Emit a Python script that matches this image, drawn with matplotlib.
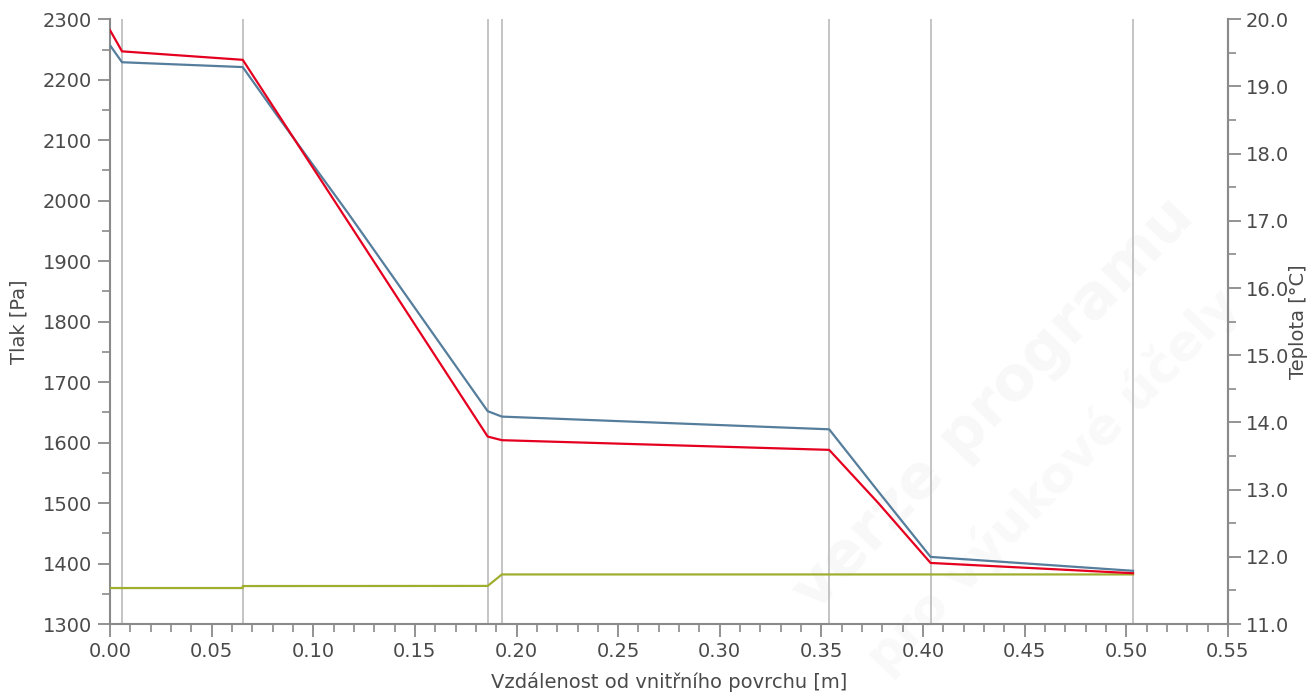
import matplotlib
matplotlib.use("Agg")
import matplotlib.pyplot as plt
from matplotlib.ticker import MultipleLocator, FormatStrFormatter

# ---- data ----
layer_bounds = [0.0059, 0.0653, 0.1858, 0.1928, 0.3538, 0.4037, 0.5033]

red_x = [0.0, 0.0059, 0.0653, 0.1858, 0.1928, 0.3538, 0.378, 0.4037, 0.5033]
red_p = [2282, 2247, 2233, 1610, 1604, 1588, 1500, 1401, 1384]

blue_x = [0.0, 0.0059, 0.0653, 0.082, 0.1172, 0.1858, 0.1928, 0.3538, 0.378, 0.4037, 0.5033]
blue_p = [2257, 2229, 2221, 2142, 1979, 1652, 1643, 1622, 1519, 1411, 1388]

green_x = [0.0, 0.0653, 0.0653, 0.1858, 0.1928, 0.5033]
green_p = [1359.5, 1359.5, 1362.8, 1363, 1382, 1382]

x_label = "Vzdálenost od vnitřního povrchu [m]"
yl_label = "Tlak [Pa]"
yr_label = "Teplota [°C]"

# ---- style ----
spine_c = "#8a8a8a"
text_c = "#4a4a4a"
plt.rcParams["font.family"] = ["DejaVu Sans"]

fig = plt.figure(figsize=(13.16, 6.97), dpi=100)
ax = fig.add_axes([0.0836, 0.1047, 0.9331 - 0.0836, 0.9723 - 0.1047])

# faint watermark below the data
ax.text(0.755, 0.42, "verze programu", fontsize=44, fontweight="bold", color="#f8f8f8",
        rotation=46, ha="center", va="center", zorder=0, transform=fig.transFigure,
        clip_on=False)
ax.text(0.80, 0.31, "pro výukové účely", fontsize=36, fontweight="bold", color="#f9f9f9",
        rotation=46, ha="center", va="center", zorder=0, transform=fig.transFigure,
        clip_on=False)

for xb in layer_bounds:
    ax.axvline(xb, color="#c4c4c4", lw=1.4, zorder=1)

ax.plot(green_x, green_p, color="#9fae2e", lw=1.6, zorder=3)
ax.plot(blue_x, blue_p, color="#557d9c", lw=1.6, zorder=4)
ax.plot(red_x, red_p, color="#e5001f", lw=1.6, zorder=5)

ax.set_xlim(0, 0.55)
ax.set_ylim(1300, 2300)
ax.xaxis.set_major_locator(MultipleLocator(0.05))
ax.xaxis.set_minor_locator(MultipleLocator(0.01))
ax.xaxis.set_major_formatter(FormatStrFormatter("%.2f"))
ax.yaxis.set_major_locator(MultipleLocator(100))
ax.yaxis.set_minor_locator(MultipleLocator(50))

ax.spines["top"].set_visible(False)
for s in ["left", "bottom", "right"]:
    ax.spines[s].set_color(spine_c)
    ax.spines[s].set_linewidth(1.5)

ax.tick_params(which="major", length=9, width=1.3, color=spine_c, labelsize=14,
               labelcolor=text_c, direction="out", pad=4)
ax.tick_params(which="minor", length=6, width=1.2, color=spine_c, direction="out")

ax.set_xlabel(x_label, fontsize=14, color=text_c, labelpad=8)
ax.set_ylabel(yl_label, fontsize=14, color=text_c, labelpad=10)

ax2 = ax.twinx()
ax2.set_ylim(11.0, 20.0)
ax2.yaxis.set_major_locator(MultipleLocator(1.0))
ax2.yaxis.set_minor_locator(MultipleLocator(0.5))
ax2.yaxis.set_major_formatter(FormatStrFormatter("%.1f"))
for s in ["top", "left", "bottom"]:
    ax2.spines[s].set_visible(False)
ax2.spines["right"].set_color(spine_c)
ax2.spines["right"].set_linewidth(1.5)
ax2.tick_params(which="major", length=9, width=1.3, color=spine_c, labelsize=14,
                labelcolor=text_c, direction="out", pad=4)
ax2.tick_params(which="minor", length=6, width=1.2, color=spine_c, direction="out")
ax2.set_ylabel(yr_label, fontsize=14, color=text_c, labelpad=0)

fig.savefig("out.png", dpi=100, facecolor="white")
